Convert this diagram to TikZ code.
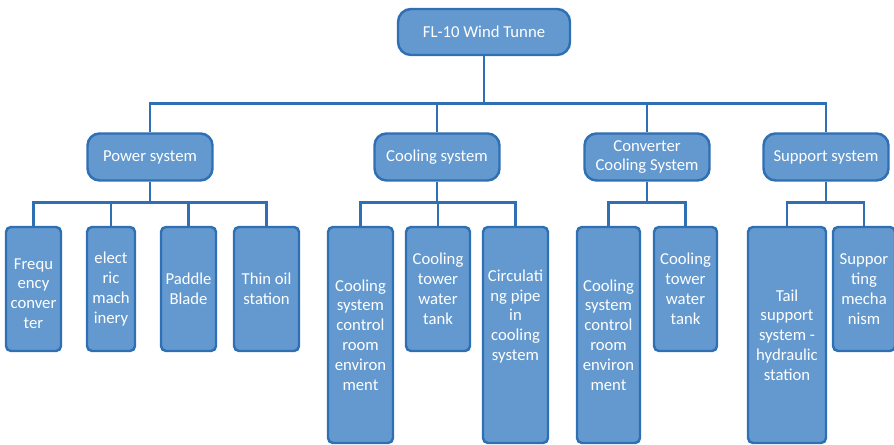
\documentclass[tikz,border=0pt]{standalone}
\usepackage{fontspec}
\setmainfont{Carlito}
\usepackage{tikz}
\usetikzlibrary{positioning}

\definecolor{boxfill}{RGB}{99,153,207}
\definecolor{boxline}{RGB}{47,111,180}

\begin{document}
\begin{tikzpicture}[
    every node/.style={font=\fontsize{9.5}{11.3}\selectfont, text=white, align=center},
    topbox/.style={draw=boxline, fill=boxfill, line width=1.4pt, rounded corners=0.26cm, minimum width=3.44cm, minimum height=0.92cm, inner sep=1pt},
    groupbox/.style={draw=boxline, fill=boxfill, line width=1.4pt, rounded corners=0.24cm, minimum width=2.5cm, minimum height=0.94cm, inner sep=1pt},
    partbox/.style={draw=boxline, fill=boxfill, line width=1.4pt, rounded corners=0.1cm, minimum height=2.48cm, inner sep=1pt},
    tallbox/.style={partbox, minimum height=4.32cm},
    link/.style={draw=boxline, line width=1.5pt}
]

\useasboundingbox (0,0) rectangle (17.88,8.90);

% root
\node (root) at (9.68,8.26) [topbox] {FL-10 Wind Tunne};

% subsystems
\node (power) at (3.00,5.76) [groupbox] {Power system};
\node (cooling) at (8.74,5.76) [groupbox] {Cooling system};
\node (convcool) at (12.94,5.76) [groupbox] {Converter\\Cooling System};
\node (support) at (16.52,5.76) [groupbox] {Support system};

% power system parts
\node (freq) at (0.67,3.12) [partbox, minimum width=1.10cm] {\mbox{}\\Frequ\\ency\\conver\\ter};
\node (elec) at (2.22,3.12) [partbox, minimum width=0.96cm] {elect\\ric\\mach\\inery};
\node (paddle) at (3.77,3.12) [partbox, minimum width=1.10cm] {Paddle\\Blade};
\node (thinoil) at (5.33,3.12) [partbox, minimum width=1.30cm] {Thin oil\\station};

% cooling system parts
\node (ctrlroom) at (7.21,2.20) [tallbox, minimum width=1.30cm] {Cooling\\system\\control\\room\\environ\\ment};
\node (tower) at (8.76,3.12) [partbox, minimum width=1.28cm] {Cooling\\tower\\water\\tank};
\node (pipe) at (10.31,2.20) [tallbox, minimum width=1.30cm] {Circulati\\ng pipe\\in\\cooling\\system\\\mbox{}\\\mbox{}};

% converter cooling parts
\node (convroom) at (12.17,2.20) [tallbox, minimum width=1.26cm] {Cooling\\system\\control\\room\\environ\\ment};
\node (convtower) at (13.71,3.12) [partbox, minimum width=1.26cm] {Cooling\\tower\\water\\tank};

% support system parts
\node (tail) at (15.74,2.20) [tallbox, minimum width=1.56cm] {Tail\\support\\system -\\hydraulic\\station};
\node (mech) at (17.28,3.12) [partbox, minimum width=1.24cm] {Suppor\\ting\\mecha\\nism};

% links root -> subsystems
\draw[link] (root.south) -- ++(0,-0.94) -| (power.north);
\draw[link] (root.south) -- ++(0,-0.94) -| (cooling.north);
\draw[link] (root.south) -- ++(0,-0.94) -| (convcool.north);
\draw[link] (root.south) -- ++(0,-0.94) -| (support.north);

% links subsystems -> parts
\draw[link] (power.south) -- ++(0,-0.41) -| (freq.north);
\draw[link] (power.south) -- ++(0,-0.41) -| (elec.north);
\draw[link] (power.south) -- ++(0,-0.41) -| (paddle.north);
\draw[link] (power.south) -- ++(0,-0.41) -| (thinoil.north);

\draw[link] (cooling.south) -- ++(0,-0.41) -| (ctrlroom.north);
\draw[link] (cooling.south) -- ++(0,-0.41) -| (tower.north);
\draw[link] (cooling.south) -- ++(0,-0.41) -| (pipe.north);

\draw[link] (convcool.south) -- ++(0,-0.41) -| (convroom.north);
\draw[link] (convcool.south) -- ++(0,-0.41) -| (convtower.north);

\draw[link] (support.south) -- ++(0,-0.41) -| (tail.north);
\draw[link] (support.south) -- ++(0,-0.41) -| (mech.north);

\end{tikzpicture}
\end{document}
